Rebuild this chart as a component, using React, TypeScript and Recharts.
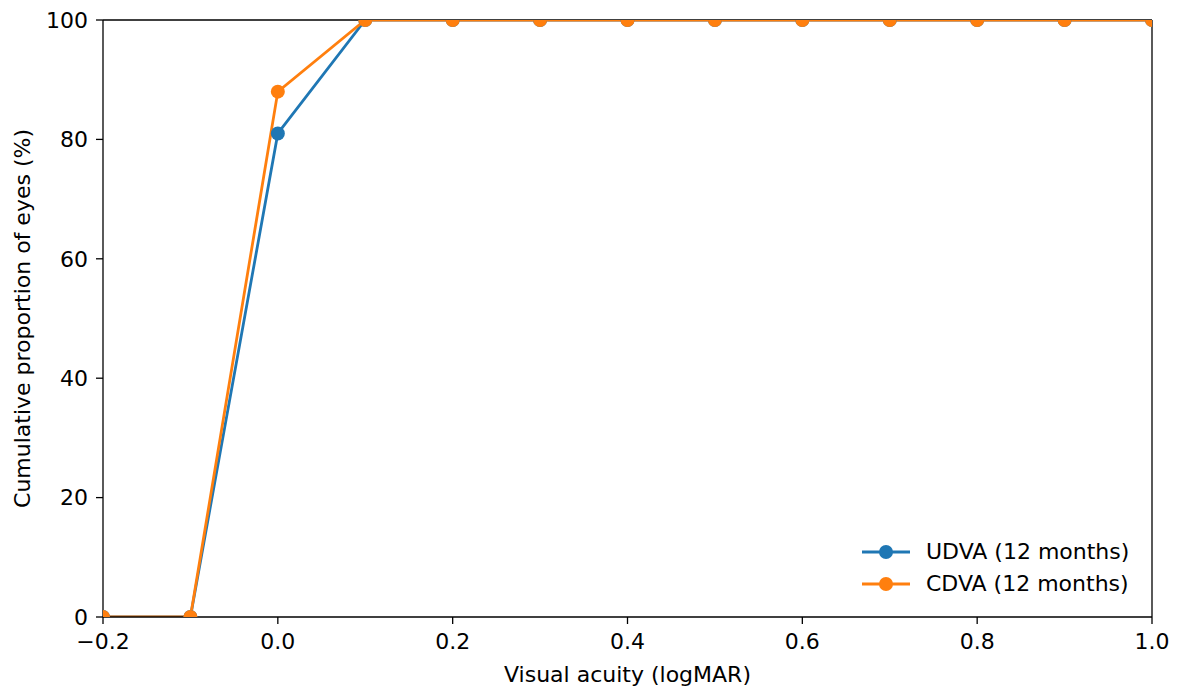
import { LineChart, Line, XAxis, YAxis, ReferenceLine } from 'recharts'

// logMAR steps
const acuity = [-0.2, -0.1, 0.0, 0.1, 0.2, 0.3, 0.4, 0.5, 0.6, 0.7, 0.8, 0.9, 1.0]
const udva = [0, 0, 81, 100, 100, 100, 100, 100, 100, 100, 100, 100, 100]
const cdva = [0, 0, 88, 100, 100, 100, 100, 100, 100, 100, 100, 100, 100]

const xTicks = [-0.2, 0.0, 0.2, 0.4, 0.6, 0.8, 1.0]
const yTicks = [0, 20, 40, 60, 80, 100]

const UDVA_COLOR = '#1f77b4'
const CDVA_COLOR = '#ff7f0e'
const FONT = 'DejaVu Sans, sans-serif'
const FS = 22

const data = acuity.map((x, i) => ({ x, udva: udva[i], cdva: cdva[i] }))

const fmtX = (v: number) => {
  const s = Math.abs(v).toFixed(1)
  return v < -1e-9 ? `\u2212${s}` : s
}

const legendItems = [
  { name: 'UDVA (12 months)', color: UDVA_COLOR },
  { name: 'CDVA (12 months)', color: CDVA_COLOR },
]

// matplotlib-style legend: line + marker, no frame.
// kept outside the chart so it doesn't eat into the plot height
const LegendBox = () => (
  <div
    style={{
      position: 'absolute',
      left: 862,
      top: 536,
      fontFamily: FONT,
      fontSize: FS,
      color: '#000',
      lineHeight: '32px',
    }}
  >
    {legendItems.map((it) => (
      <div key={it.name} style={{ display: 'flex', alignItems: 'center', height: 32 }}>
        <svg width={48} height={16} style={{ marginRight: 16 }}>
          <line x1={0} y1={8} x2={48} y2={8} stroke={it.color} strokeWidth={2.8} />
          <circle cx={24} cy={8} r={7} fill={it.color} />
        </svg>
        <span>{it.name}</span>
      </div>
    ))}
  </div>
)

export default function App() {
  return (
    <div style={{ position: 'absolute', left: 0, top: 0, width: 1178, height: 691, background: '#fff' }}>
      <LineChart
        width={1178}
        height={691}
        data={data}
        margin={{ top: 20, right: 26, left: 0, bottom: 0 }}
      >
        <XAxis
          dataKey="x"
          type="number"
          domain={[-0.2, 1.0]}
          ticks={xTicks}
          tickFormatter={fmtX}
          allowDataOverflow
          height={74}
          tickSize={7}
          tickMargin={9}
          stroke="#000"
          strokeWidth={1.3}
          tick={{ fill: '#000', fontSize: FS, fontFamily: FONT }}
          label={{
            content: () => (
              <text x={627.5} y={682} textAnchor="middle" fontSize={FS} fontFamily={FONT} fill="#000">
                Visual acuity (logMAR)
              </text>
            ),
          }}
        />
        <YAxis
          type="number"
          domain={[0, 100]}
          ticks={yTicks}
          allowDataOverflow
          width={103}
          tickSize={7}
          tickMargin={8}
          stroke="#000"
          strokeWidth={1.3}
          tick={{ fill: '#000', fontSize: FS, fontFamily: FONT }}
          label={{
            content: () => (
              <text
                x={30}
                y={318.5}
                transform="rotate(-90 30 318.5)"
                textAnchor="middle"
                fontSize={FS}
                fontFamily={FONT}
                fill="#000"
              >
                Cumulative proportion of eyes (%)
              </text>
            ),
          }}
        />
        {/* top and right spines */}
        <ReferenceLine y={100} stroke="#000" strokeWidth={1.3} />
        <ReferenceLine x={1.0} stroke="#000" strokeWidth={1.3} />
        <Line
          dataKey="udva"
          name="UDVA (12 months)"
          type="linear"
          stroke={UDVA_COLOR}
          strokeWidth={2.8}
          dot={{ r: 7, fill: UDVA_COLOR, stroke: 'none' }}
          activeDot={false}
          isAnimationActive={false}
        />
        <Line
          dataKey="cdva"
          name="CDVA (12 months)"
          type="linear"
          stroke={CDVA_COLOR}
          strokeWidth={2.8}
          dot={{ r: 7, fill: CDVA_COLOR, stroke: 'none' }}
          activeDot={false}
          isAnimationActive={false}
        />
      </LineChart>
      <LegendBox />
    </div>
  )
}
